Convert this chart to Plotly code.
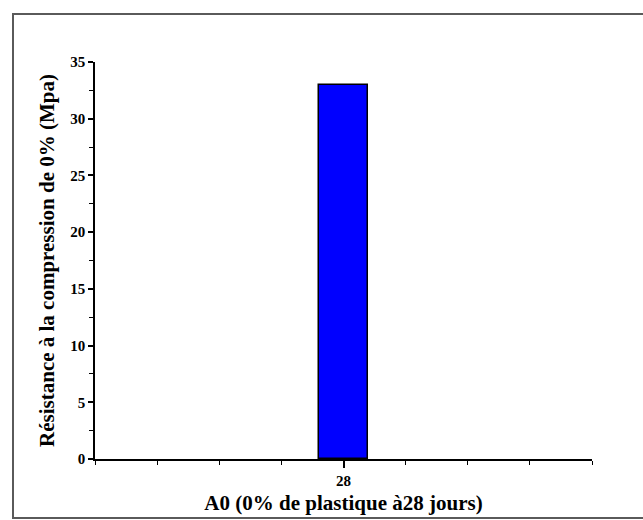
import plotly.graph_objects as go

categories = [28]
values = [33.0]
x_tick_vals = [28]
x_tick_text = ["28"]
x_minor_ticks = [24, 25, 26, 27, 29, 30, 31, 32]
y_tick_vals = [0, 5, 10, 15, 20, 25, 30, 35]

W, H = 643, 520
L, R, T, B = 95, 51, 62, 61

fig = go.Figure()
fig.add_trace(go.Bar(
    x=categories, y=values, width=0.8,
    marker=dict(color="#0000FF", line=dict(color="#000000", width=1.5)),
))

font_fam = "Liberation Serif"
pw = W - L - R
ph = H - T - B
# outer frame in paper coords
x0 = (13 - L) / pw
x1 = (646 - L) / pw
y1 = (H - B - 14) / ph
y0 = (H - B - 518) / ph
fig.add_shape(type="rect", xref="paper", yref="paper", x0=x0, x1=x1, y0=y0, y1=y1,
              line=dict(color="#5a5a5a", width=2), fillcolor="rgba(0,0,0,0)", layer="below")

fig.update_layout(
    width=W, height=H,
    margin=dict(l=L, r=R, t=T, b=B, autoexpand=False),
    paper_bgcolor="white", plot_bgcolor="white",
    showlegend=False,
    font=dict(family=font_fam, color="black"),
    xaxis=dict(
        range=[24, 32], showgrid=False, zeroline=False,
        showline=True, linecolor="black", linewidth=1.5,
        tickmode="array", tickvals=x_tick_vals, ticktext=x_tick_text,
        ticks="outside", ticklen=7, tickwidth=1.5, tickcolor="black",
        tickfont=dict(family=font_fam, size=15, color="black", weight="bold"),
        minor=dict(tickmode="array", tickvals=x_minor_ticks, ticks="outside",
                   ticklen=4, tickwidth=1.2, tickcolor="black"),
        title=dict(text="<b>A0 (0% de plastique à28 jours)</b>",
                   font=dict(family=font_fam, size=21, color="black"), standoff=8),
    ),
    yaxis=dict(
        range=[0, 35], showgrid=False, zeroline=False,
        showline=True, linecolor="black", linewidth=1.5,
        tickmode="array", tickvals=y_tick_vals,
        ticks="outside", ticklen=5, tickwidth=1.5, tickcolor="black",
        tickfont=dict(family=font_fam, size=15, color="black", weight="bold"),
        minor=dict(dtick=2.5, tick0=0, ticks="outside", ticklen=4, tickwidth=1.2, tickcolor="black"),
        title=dict(text="<b>Résistance à la compression de 0% (Mpa)</b>",
                   font=dict(family=font_fam, size=21, color="black"), standoff=10),
    ),
    bargap=0,
)

fig.write_html("out.html")
